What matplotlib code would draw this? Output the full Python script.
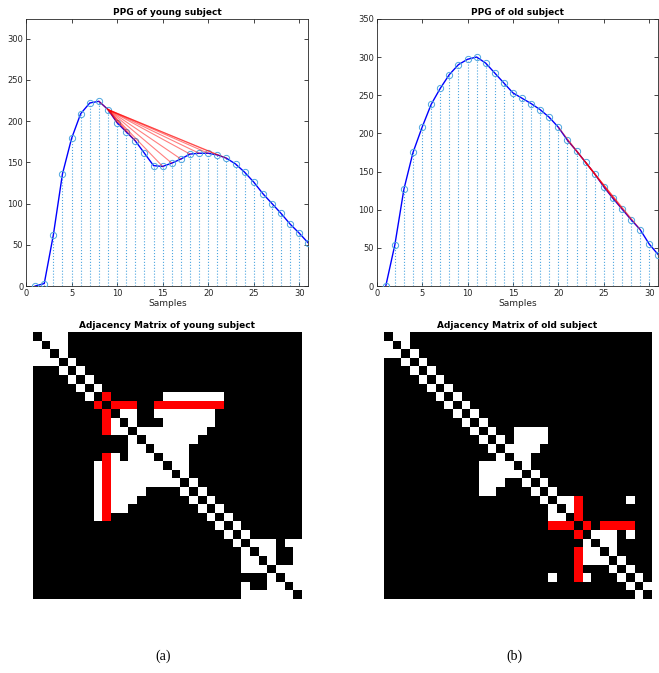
import numpy as np
import matplotlib.pyplot as plt

# PPG samples
samples = np.arange(1, 32)
young_ppg = [0, 3, 62, 136, 179, 209, 222, 224, 214, 198, 187, 176, 161, 146, 145, 149,
             154, 160, 161, 161, 159, 155, 148, 138, 126, 112, 100, 88, 75, 64, 52]
old_ppg = [0, 54, 127, 175, 208, 238, 259, 277, 290, 297, 300, 292, 279, 266, 253, 246,
           239, 231, 221, 208, 191, 177, 162, 147, 130, 115, 101, 87, 74, 55, 41]

# visibility edges, upper triangle: neighbours (index > i) of node i
young_edges = [[1, 2, 3], [2, 3], [3], [4], [5], [6], [7],
               [8, 15, 16, 17, 18, 19, 20, 21],
               [9, 10, 11, 14, 15, 16, 17, 18, 19, 20, 21],
               [10, 11, 14, 15, 16, 17, 18, 19, 20],
               [11, 15, 16, 17, 18, 19, 20],
               [12, 13, 14, 15, 16, 17, 18, 19],
               [13, 14, 15, 16, 17, 18],
               [14, 15, 16, 17], [15, 16, 17], [16, 17], [17], [18], [19], [20],
               [21], [22], [23], [24],
               [25, 26, 27, 29, 30], [26, 27, 30], [27, 30], [28, 29, 30], [29, 30],
               [30], []]
old_edges = [[1, 2], [2], [3], [4], [5], [6], [7], [8], [9], [10], [11],
             [12, 15, 16, 17, 18], [13, 15, 16, 17, 18], [14, 15, 16, 17], [15, 16],
             [16], [17], [18], [19], [20, 21, 22, 28], [21, 22], [22],
             [23, 25, 26, 27, 28], [24, 25, 26, 28], [25, 26], [26], [27], [28],
             [29], [30], []]

# highlighted node (0-based)
young_focus = 8
old_focus = 22

stem_color = "#4da6e0"
axis_gray = "#262626"


def adjacency(edges):
    n = len(edges)
    A = np.zeros((n, n), dtype=int)
    for i, nbrs in enumerate(edges):
        for j in nbrs:
            A[i, j] = 1
            A[j, i] = 1
    return A


def matrix_image(A, focus):
    img = np.zeros(A.shape + (3,))
    img[A == 1] = 1.0
    mask = np.zeros(A.shape, dtype=bool)
    mask[focus, :] = True
    mask[:, focus] = True
    img[mask & (A == 1)] = [1.0, 0.0, 0.0]
    return img


def ppg_panel(ax, values, A, focus, title, ytop, yticks):
    values = np.array(values)
    ax.vlines(samples, 0, values, colors=stem_color, linestyles=":", lw=0.8)
    ax.plot(samples, values, color="blue", lw=1.0, zorder=3)
    ax.plot(samples, values, "o", mfc="none", mec=stem_color, ms=4.5, mew=0.7, zorder=4)
    for j in np.nonzero(A[focus])[0]:
        ax.plot([samples[focus], samples[j]], [values[focus], values[j]],
                color="red", alpha=0.5, lw=0.8, zorder=5)
    ax.set_xlim(0, 31)
    ax.set_ylim(0, ytop)
    ax.set_xticks([0, 5, 10, 15, 20, 25, 30])
    ax.set_yticks(yticks)
    ax.tick_params(direction="in", top=True, right=True, length=3, width=0.6,
                   labelsize=6, colors=axis_gray, pad=2)
    for s in ax.spines.values():
        s.set_color(axis_gray)
        s.set_linewidth(0.6)
    ax.set_title(title, fontsize=6.5, fontweight="bold", pad=3)
    ax.set_xlabel("Samples", fontsize=6.5, color=axis_gray, labelpad=1)


def matrix_panel(ax, A, focus, title):
    ax.imshow(matrix_image(A, focus), interpolation="nearest", aspect="auto")
    ax.set_axis_off()
    ax.set_title(title, fontsize=6.5, fontweight="bold", pad=3)


young_A = adjacency(young_edges)
old_A = adjacency(old_edges)

fig = plt.figure(figsize=(6.59, 6.73), dpi=100)

ax1 = fig.add_axes([0.0395, 0.575, 0.4285, 0.397])
ppg_panel(ax1, young_ppg, young_A, young_focus, "PPG of young subject", 324,
          [0, 50, 100, 150, 200, 250, 300])

ax2 = fig.add_axes([0.5716, 0.575, 0.4273, 0.397])
ppg_panel(ax2, old_ppg, old_A, old_focus, "PPG of old subject", 350,
          [0, 50, 100, 150, 200, 250, 300, 350])

ax3 = fig.add_axes([0.0501, 0.110, 0.4067, 0.3967])
matrix_panel(ax3, young_A, young_focus, "Adjacency Matrix of young subject")

ax4 = fig.add_axes([0.5822, 0.110, 0.4056, 0.3967])
matrix_panel(ax4, old_A, old_focus, "Adjacency Matrix of old subject")

fig.text(0.247, 0.019, "(a)", fontsize=10, family="Liberation Serif", ha="center")
fig.text(0.781, 0.019, "(b)", fontsize=10, family="Liberation Serif", ha="center")

fig.savefig("out.png", dpi=100)
